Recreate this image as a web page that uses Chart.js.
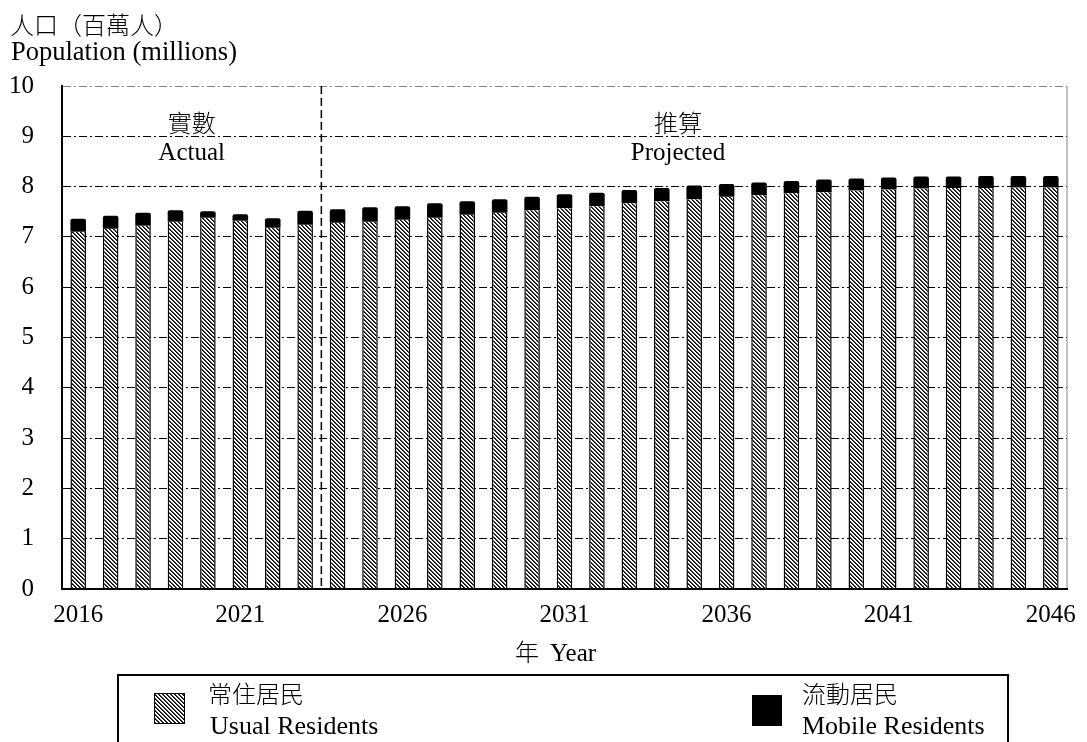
<!DOCTYPE html>
<html>
<head>
<meta charset="utf-8">
<script src="https://cdn.jsdelivr.net/npm/chart.js@4"></script>
<style>
  html, body { margin: 0; padding: 0; background: #fff; }
  #wrap { width: 1087px; height: 742px; position: relative; }
</style>
</head>
<body>
<div id="wrap"><canvas id="chart"></canvas></div>
<script>
// values (millions)
const years = ['2016', '2017', '2018', '2019', '2020', '2021', '2022', '2023', '2024', '2025',
               '2026', '2027', '2028', '2029', '2030', '2031', '2032', '2033', '2034', '2035',
               '2036', '2037', '2038', '2039', '2040', '2041', '2042', '2043', '2044', '2045', '2046'];
const usualResidents = [7.10, 7.16, 7.22, 7.30, 7.38, 7.32, 7.18, 7.24, 7.28, 7.30,
                        7.34, 7.38, 7.44, 7.48, 7.53, 7.57, 7.61, 7.67, 7.71, 7.75,
                        7.80, 7.83, 7.87, 7.89, 7.92, 7.94, 7.96, 7.97, 7.97, 7.98, 7.98];
const mobileResidents = [0.26, 0.26, 0.26, 0.23, 0.13, 0.13, 0.19, 0.28, 0.27, 0.29,
                         0.27, 0.29, 0.27, 0.27, 0.27, 0.28, 0.27, 0.26, 0.26, 0.27,
                         0.25, 0.25, 0.24, 0.25, 0.24, 0.24, 0.24, 0.23, 0.24, 0.23, 0.23];
const shownYears = ['2016', '2021', '2026', '2031', '2036', '2041', '2046'];
const lastActualYear = '2023';

const SERIF = "'Liberation Serif', 'Times New Roman', serif";
const CJK = "'Noto Sans CJK TC', 'Noto Sans CJK SC', sans-serif";

function makeHatch() {
    const c = document.createElement('canvas');
    c.width = 4;
    c.height = 4;
    const g = c.getContext('2d');
    g.fillStyle = '#fff';
    g.fillRect(0, 0, 4, 4);
    for (let y = 0; y < 4; y++) {
        g.fillStyle = '#000';
        g.fillRect(y, y, 1, 1);
        g.fillStyle = '#444';
        g.fillRect((y + 1) % 4, y, 1, 1);
    }
    return g.createPattern(c, 'repeat');
}
const hatch = makeHatch();

function text(ctx, str, x, y, font, align, baseline) {
    ctx.font = font;
    ctx.textAlign = align || 'left';
    ctx.textBaseline = baseline || 'alphabetic';
    ctx.fillStyle = '#000';
    ctx.fillText(str, x, y);
}

const decorations = {
    id: 'decorations',
    beforeDraw(chart) {
        const ctx = chart.ctx;
        ctx.save();
        ctx.fillStyle = '#fff';
        ctx.fillRect(0, 0, chart.width, chart.height);
        ctx.restore();
    },
    afterDatasetsDraw(chart) {
        const ctx = chart.ctx;
        const area = chart.chartArea;
        const x = chart.scales.x;
        const i = years.indexOf(lastActualYear);
        const divX = (x.getPixelForValue(i) + x.getPixelForValue(i + 1)) / 2;

        ctx.save();
        // actual / projected divider
        ctx.strokeStyle = '#000';
        ctx.lineWidth = 1.5;
        ctx.setLineDash([8, 4]);
        ctx.beginPath();
        ctx.moveTo(divX, area.top);
        ctx.lineTo(divX, area.bottom);
        ctx.stroke();
        ctx.setLineDash([]);

        // right frame
        ctx.strokeStyle = '#888';
        ctx.lineWidth = 1;
        ctx.beginPath();
        ctx.moveTo(area.right, area.top);
        ctx.lineTo(area.right, area.bottom);
        ctx.stroke();

        const actualX = x.getPixelForValue(i / 2);
        const projX = x.getPixelForValue(18.5);
        text(ctx, '實數', actualX, area.top + 37, '300 24px ' + CJK, 'center', 'middle');
        text(ctx, 'Actual', actualX, area.top + 74, '25px ' + SERIF, 'center');
        text(ctx, '推算', projX, area.top + 37, '300 24px ' + CJK, 'center', 'middle');
        text(ctx, 'Projected', projX, area.top + 74, '25px ' + SERIF, 'center');
        ctx.restore();
    },
    afterDraw(chart) {
        const ctx = chart.ctx;
        ctx.save();
        // axis titles
        text(ctx, '人口（百萬人）', 10, 25, '300 24px ' + CJK, 'left', 'middle');
        text(ctx, 'Population (millions)', 11, 60, '26.5px ' + SERIF);
        text(ctx, '年', 515, 652, '300 24px ' + CJK, 'left', 'middle');
        text(ctx, 'Year', 550, 661, '25px ' + SERIF);

        // legend box
        ctx.strokeStyle = '#000';
        ctx.lineWidth = 2;
        ctx.strokeRect(118, 675, 890, 80);

        const ds = chart.data.datasets;
        ctx.fillStyle = ds[0].backgroundColor;
        ctx.fillRect(154, 693, 31, 31);
        ctx.lineWidth = 1;
        ctx.strokeRect(154.5, 693.5, 30, 30);
        text(ctx, '常住居民', 208, 694, '300 24px ' + CJK, 'left', 'middle');
        text(ctx, 'Usual Residents', 210, 734, '26px ' + SERIF);

        ctx.fillStyle = ds[1].backgroundColor;
        ctx.fillRect(752, 695, 30, 31);
        text(ctx, '流動居民', 802, 694, '300 24px ' + CJK, 'left', 'middle');
        text(ctx, 'Mobile Residents', 802, 734, '26px ' + SERIF);
        ctx.restore();
    }
};

const ctx = document.getElementById('chart');
new Chart(ctx, {
    type: 'bar',
    data: {
        labels: years,
        datasets: [{
            label: '常住居民 Usual Residents',
            data: usualResidents,
            backgroundColor: hatch,
            borderColor: '#000',
            borderWidth: { left: 1.5, right: 1.5, top: 0, bottom: 0 },
            barPercentage: 0.48,
            categoryPercentage: 1
        }, {
            label: '流動居民 Mobile Residents',
            data: mobileResidents,
            backgroundColor: '#000',
            borderWidth: 0,
            borderRadius: 2,
            barPercentage: 0.48,
            categoryPercentage: 1
        }]
    },
    options: {
        responsive: true,
        maintainAspectRatio: false,
        animation: false,
        layout: { padding: { top: 86, right: 11, bottom: 0, left: 0 } },
        plugins: {
            legend: { display: false },
            tooltip: { enabled: false }
        },
        scales: {
            x: {
                stacked: true,
                grid: { display: false, drawTicks: false },
                border: { color: '#000', width: 2, z: 1 },
                ticks: {
                    autoSkip: false,
                    maxRotation: 0,
                    padding: 11,
                    color: '#000',
                    font: { family: SERIF, size: 25 },
                    callback: (v, i) => shownYears.includes(years[i]) ? years[i] : ''
                },
                afterFit: (s) => { s.height = 153; }
            },
            y: {
                stacked: true,
                min: 0,
                max: 10,
                ticks: {
                    stepSize: 1,
                    padding: 28,
                    color: '#000',
                    font: { family: SERIF, size: 25 }
                },
                grid: {
                    drawTicks: false,
                    lineWidth: 1,
                    color: (c) => c.tick.value === 0 ? 'rgba(0,0,0,0)' : (c.tick.value === 10 ? '#888' : '#000')
                },
                border: { color: '#000', width: 2, dash: [8, 3, 2, 3] },
                afterFit: (s) => { s.width = 62; }
            }
        }
    },
    plugins: [decorations]
});
</script>
</body>
</html>
